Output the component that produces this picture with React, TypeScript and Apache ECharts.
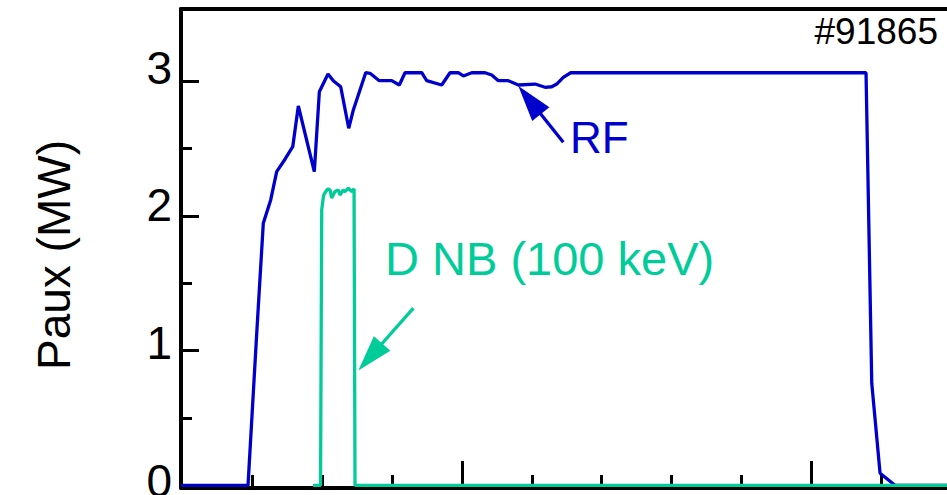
import React, { useEffect, useRef } from "react";
import * as echarts from "echarts";

// ---- data (time in s, power in MW) ----
const rfTime = [0.5974, 0.692, 0.6934, 0.7059, 0.7153, 0.7259, 0.7345, 0.7464, 0.7575, 0.7655, 0.7884, 0.7956, 0.808, 0.8156, 0.8262, 0.8377, 0.8443, 0.862, 0.8682, 0.8815, 0.8993, 0.9102, 0.9183, 0.9423, 0.9494, 0.9709, 0.9828, 0.9947, 1.0019, 1.0139, 1.033, 1.0426, 1.052, 1.0663, 1.0807, 1.1046, 1.1189, 1.1285, 1.1357, 1.1451, 1.1557, 1.5788, 1.587, 1.5989, 1.6203, 1.6948];
const rfPower = [0, 0, 0, 1.129, 1.945, 2.118, 2.328, 2.42, 2.513, 2.815, 2.328, 2.921, 3.053, 3.003, 2.958, 2.65, 2.786, 3.062, 3.058, 3.003, 3.003, 2.971, 3.062, 3.062, 3.003, 2.971, 3.062, 3.062, 3.038, 3.062, 3.062, 3.045, 3.003, 3.003, 2.971, 2.978, 2.954, 2.958, 2.978, 3.028, 3.062, 3.062, 0.758, 0.09, 0, 0];

const nbTime = [0.7865, 0.7973, 0.799, 0.8016, 0.8047, 0.808, 0.8109, 0.8133, 0.818, 0.8228, 0.8252, 0.8295, 0.8324, 0.8371, 0.842, 0.8453, 0.8467, 1.6948];
const nbPower = [0, 0, 2.044, 2.15, 2.18, 2.2, 2.192, 2.132, 2.18, 2.192, 2.154, 2.19, 2.18, 2.205, 2.18, 2.2, 0, 0];

const xMajorTicks = [1.0, 1.5];
const xMinorTicks = [0.7, 0.8, 0.9, 1.1, 1.2, 1.3, 1.4, 1.6];
const yMajorTicks = [0, 1, 2, 3];
const yMinorTicks = [0.5, 1.5, 2.5];
const yTickLabels = [0, 1, 2, 3];

const X_MIN = 0.5974;
const X_MAX = 1.6948;
const Y_MIN = -0.02;
const Y_MAX = 3.535;
// the printed tick labels sit slightly above their ticks in the original figure
const LABEL_Y_MIN = -0.0508;
const LABEL_Y_MAX = 3.4253;

const yAxisTitle = "Paux (MW)";
const shotLabel = "#91865";
const rfLabel = "RF";
const nbLabel = "D NB (100 keV)";
const rfLabelAt = [1.1547, 2.582];
const nbLabelAt = [0.8897, 1.68];
const rfArrow = { tail: [1.1451, 2.546], tip: [1.0807, 2.964] };
const nbArrow = { tail: [0.9303, 1.315], tip: [0.8514, 0.852] };

const BLUE = "#0000CC";
const GREEN = "#00CC99";
const FONT = "'Liberation Sans', Arial, Helvetica, sans-serif";

export default function App() {
  const ref = useRef<HTMLDivElement>(null);

  useEffect(() => {
    const chart = echarts.init(ref.current!, null, { renderer: "svg" });
    const rfData = rfTime.map((t, i) => [t, rfPower[i]]);
    const nbData = nbTime.map((t, i) => [t, nbPower[i]]);

    const baseX = {
      type: "value",
      min: X_MIN,
      max: X_MAX,
      splitLine: { show: false },
      axisLabel: { show: false },
    };
    const baseY = {
      type: "value",
      min: Y_MIN,
      max: Y_MAX,
      splitLine: { show: false },
    };
    const black = (width: number, show = true) => ({ show, onZero: false, lineStyle: { color: "#000", width } });

    chart.setOption({
      animation: false,
      backgroundColor: "#ffffff",
      grid: { left: 181, right: 0, top: 9, bottom: 7, containLabel: false, outerBoundsMode: "none" },
      xAxis: [
        {
          ...baseX,
          position: "bottom",
          axisLine: black(4),
          axisTick: { show: true, inside: true, length: 27, customValues: xMajorTicks, lineStyle: { color: "#000", width: 3 } },
        },
        {
          ...baseX,
          position: "bottom",
          axisLine: black(4, false),
          axisTick: { show: true, inside: true, length: 13, customValues: xMinorTicks, lineStyle: { color: "#000", width: 3 } },
        },
        {
          ...baseX,
          position: "top",
          axisLine: black(4),
          axisTick: { show: false },
        },
      ],
      yAxis: [
        {
          ...baseY,
          position: "left",
          name: yAxisTitle,
          nameLocation: "middle",
          nameGap: 104,
          nameRotate: 90,
          nameTextStyle: { fontSize: 46, color: "#000", fontFamily: FONT, padding: [0, 13, 0, 0] },
          axisLine: black(4),
          axisTick: { show: true, inside: true, length: 18, customValues: yMajorTicks, lineStyle: { color: "#000", width: 3 } },
          axisLabel: { show: false },
        },
        {
          ...baseY,
          position: "left",
          axisLine: black(4, false),
          axisLabel: { show: false },
          axisTick: { show: true, inside: true, length: 11, customValues: yMinorTicks, lineStyle: { color: "#000", width: 3 } },
        },
        {
          type: "value",
          min: LABEL_Y_MIN,
          max: LABEL_Y_MAX,
          position: "left",
          splitLine: { show: false },
          axisLine: black(4, false),
          axisTick: { show: false },
          axisLabel: {
            show: true,
            customValues: yTickLabels,
            margin: 9,
            fontSize: 46,
            color: "#000",
            fontFamily: FONT,
          },
        },
      ],
      series: [
        {
          type: "line",
          name: "RF",
          xAxisIndex: 0,
          yAxisIndex: 0,
          data: rfData,
          showSymbol: false,
          symbol: "none",
          lineStyle: { color: BLUE, width: 3.3 },
          itemStyle: { color: BLUE },
          z: 3,
        },
        {
          type: "line",
          name: "D NB",
          xAxisIndex: 0,
          yAxisIndex: 0,
          data: nbData,
          showSymbol: false,
          symbol: "none",
          lineStyle: { color: GREEN, width: 3.3 },
          itemStyle: { color: GREEN },
          z: 4,
        },
      ],
    });

    const toPx = (p: number[]) => chart.convertToPixel({ seriesIndex: 0 }, p) as number[];

    const arrowGraphics = (a: { tail: number[]; tip: number[] }, color: string) => {
      const t = toPx(a.tail);
      const p = toPx(a.tip);
      const dx = p[0] - t[0];
      const dy = p[1] - t[1];
      const len = Math.hypot(dx, dy);
      const ux = dx / len;
      const uy = dy / len;
      const headLen = 36;
      const halfW = 11;
      const bx = p[0] - ux * headLen;
      const by = p[1] - uy * headLen;
      const nx = -uy;
      const ny = ux;
      return [
        {
          type: "line",
          shape: { x1: t[0], y1: t[1], x2: bx + ux * 2, y2: by + uy * 2 },
          style: { stroke: color, lineWidth: 3.3 },
          z: 10,
        },
        {
          type: "polygon",
          shape: {
            points: [
              [p[0], p[1]],
              [bx + nx * halfW, by + ny * halfW],
              [bx - nx * halfW, by - ny * halfW],
            ],
          },
          style: { fill: color },
          z: 10,
        },
      ];
    };

    const rfPos = toPx(rfLabelAt);
    const nbPos = toPx(nbLabelAt);

    chart.setOption({
      graphic: [
        ...arrowGraphics(rfArrow, BLUE),
        ...arrowGraphics(nbArrow, GREEN),
        {
          type: "text",
          x: rfPos[0],
          y: rfPos[1],
          style: { text: rfLabel, fill: BLUE, fontSize: 44, fontFamily: FONT, align: "left", verticalAlign: "middle" },
          z: 10,
        },
        {
          type: "text",
          x: nbPos[0],
          y: nbPos[1],
          style: { text: nbLabel, fill: GREEN, fontSize: 47, fontFamily: FONT, align: "left", verticalAlign: "middle" },
          z: 10,
        },
        {
          type: "text",
          x: 938,
          y: 31.7,
          style: { text: shotLabel, fill: "#000", fontSize: 37, fontFamily: FONT, align: "right", verticalAlign: "middle" },
          z: 10,
        },
      ],
    });

    return () => chart.dispose();
  }, []);

  return (
    <div
      ref={ref}
      style={{ position: "absolute", left: 0, top: 0, width: 947, height: 495, background: "#fff" }}
    />
  );
}
